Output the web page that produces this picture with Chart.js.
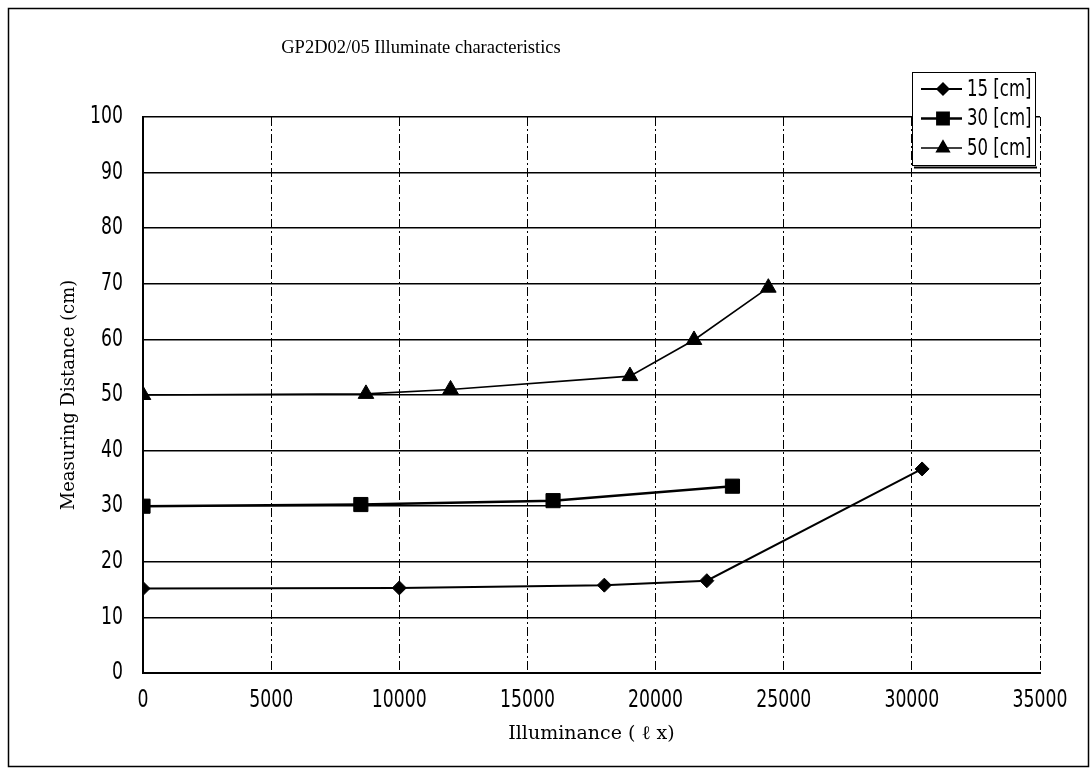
<!DOCTYPE html>
<html>
<head>
<meta charset="utf-8">
<script src="https://cdn.jsdelivr.net/npm/chart.js@4.4.1/dist/chart.umd.min.js"></script>
<style>
html,body{margin:0;padding:0;background:#fff;}
#wrap{width:1092px;height:775px;position:relative;}
</style>
</head>
<body>
<div id="wrap"><canvas id="c" width="1092" height="775"></canvas></div>
<script>
// ---- data ----
const chartTitle = "GP2D02/05 Illuminate characteristics";
const xAxisTitle = "Illuminance ( \u2113 x)";
const yAxisTitle = "Measuring Distance (cm)";
const seriesNames = ["15 [cm]", "30 [cm]", "50 [cm]"];

const lux15 = [0, 10000, 18000, 22000, 30400];
const dist15 = [15.2, 15.3, 15.8, 16.6, 36.7];

const lux30 = [0, 8500, 16000, 23000];
const dist30 = [30.0, 30.3, 31.0, 33.6];

const lux50 = [0, 8700, 12000, 19000, 21500, 24400];
const dist50 = [50.0, 50.2, 51.0, 53.4, 59.9, 69.3];

const xTicks = [0, 5000, 10000, 15000, 20000, 25000, 30000, 35000];
const yTicks = [0, 10, 20, 30, 40, 50, 60, 70, 80, 90, 100];

const NARROW = '"DejaVu Sans Condensed", "DejaVu Sans", sans-serif';
const SERIF = '"DejaVu Serif", "Liberation Serif", serif';
const TITLESERIF = '"Liberation Serif", "DejaVu Serif", serif';

function pts(xs, ys){ return xs.map((x,i)=>({x:x, y:ys[i]})); }

// narrow the condensed label font horizontally (the reference uses a tall narrow face)
const canvas = document.getElementById('c');
const ctx0 = canvas.getContext('2d');
const origFill = ctx0.fillText.bind(ctx0);
ctx0.fillText = function(t, x, y, mw){
  if (this.font.indexOf('Condensed') >= 0) {
    this.save();
    this.translate(x, y);
    this.scale(0.8, 1);
    origFill(t, 0, 0);
    this.restore();
  } else if (mw !== undefined) {
    origFill(t, x, y, mw);
  } else {
    origFill(t, x, y);
  }
};

const datasets = [
  {label: seriesNames[0], data: pts(lux15, dist15), pointStyle:'rectRot', pointRadius:7, borderWidth:2},
  {label: seriesNames[1], data: pts(lux30, dist30), pointStyle:'rect', pointRadius:10, borderWidth:2.5},
  {label: seriesNames[2], data: pts(lux50, dist50), pointStyle:'triangle', pointRadius:9, borderWidth:1.6}
].map(d => Object.assign(d, {
  borderColor:'#000', backgroundColor:'#000', pointBackgroundColor:'#000', pointBorderColor:'#000',
  pointBorderWidth:1, tension:0, fill:false, showLine:true
}));

const decorPlugin = {
  id:'decor',
  beforeDraw(chart){
    const ctx = chart.ctx;
    ctx.save();
    ctx.fillStyle = '#fff';
    ctx.fillRect(0,0,chart.width,chart.height);
    ctx.strokeStyle = '#000';
    ctx.lineWidth = 1.5;
    ctx.strokeRect(8.5, 8.5, 1080, 758);
    ctx.restore();
  },
  afterDraw(chart){
    const ctx = chart.ctx;
    const a = chart.chartArea;
    ctx.save();
    // title
    ctx.fillStyle = '#000';
    ctx.font = '18.5px ' + TITLESERIF;
    ctx.textAlign = 'center';
    ctx.textBaseline = 'middle';
    ctx.fillText(chartTitle, 421, 48);
    // legend box
    const bx = a.right - 128, by = 72, bw = 123, bh = 93;
    ctx.fillStyle = '#fff';
    ctx.fillRect(bx, by, bw, bh);
    ctx.strokeStyle = '#000';
    ctx.lineWidth = 1;
    ctx.strokeRect(bx + 0.5, by + 0.5, bw, bh);
    ctx.lineWidth = 2;
    ctx.beginPath();
    ctx.moveTo(bx + 2, by + bh + 2.5); ctx.lineTo(bx + bw + 2, by + bh + 2.5);
    ctx.stroke();
    chart.data.datasets.forEach((ds, i) => {
      const cy = by + 17 + i * 29.5;
      ctx.strokeStyle = '#000';
      ctx.lineWidth = ds.borderWidth;
      ctx.beginPath();
      ctx.moveTo(bx + 9, cy); ctx.lineTo(bx + 50, cy);
      ctx.stroke();
      ctx.fillStyle = '#000';
      Chart.helpers.drawPoint(ctx, {pointStyle: ds.pointStyle, radius: ds.pointRadius * 0.8, borderWidth: 1, rotation: 0}, bx + 31, cy);
      ctx.fill();
      ctx.fillStyle = '#000';
      ctx.font = '23px ' + NARROW;
      ctx.textAlign = 'left';
      ctx.textBaseline = 'middle';
      ctx.fillText(ds.label, bx + 55, cy + 1);
    });
    ctx.restore();
  }
};

new Chart(canvas, {
  type:'scatter',
  data:{datasets:datasets},
  options:{
    responsive:false,
    animation:false,
    events:[],
    layout:{padding:{left:55, top:117, right:52, bottom:25}},
    plugins:{legend:{display:false}, title:{display:false}, tooltip:{enabled:false}},
    scales:{
      x:{
        type:'linear', min:0, max:35000,
        afterBuildTicks(s){ s.ticks = xTicks.map(v=>({value:v})); },
        afterFit(s){ s.height = 775 - 673 - 25; },
        grid:{color:'#000', lineWidth:1, drawTicks:false},
        border:{display:true, color:'#000', width:2, dash:[9,3,2,3]},
        ticks:{color:'#000', padding:13, maxRotation:0, autoSkip:false, font:{family:NARROW, size:24},
               callback:(v)=>String(v)},
        title:{display:true, text:xAxisTitle, color:'#000', font:{family:SERIF, size:19}, padding:{top:4, bottom:5}}
      },
      y:{
        type:'linear', min:0, max:100,
        afterBuildTicks(s){ s.ticks = yTicks.map(v=>({value:v})); },
        afterFit(s){ s.width = 143 - 55; },
        grid:{color:'#000', lineWidth:1.6, drawTicks:false},
        border:{display:true, color:'#000', width:2},
        ticks:{color:'#000', padding:20, font:{family:NARROW, size:24}, callback:(v)=>String(v)},
        title:{display:true, text:yAxisTitle, color:'#000', font:{family:SERIF, size:18}, padding:{top:4, bottom:4}}
      }
    }
  },
  plugins:[decorPlugin]
});
</script>
</body>
</html>
